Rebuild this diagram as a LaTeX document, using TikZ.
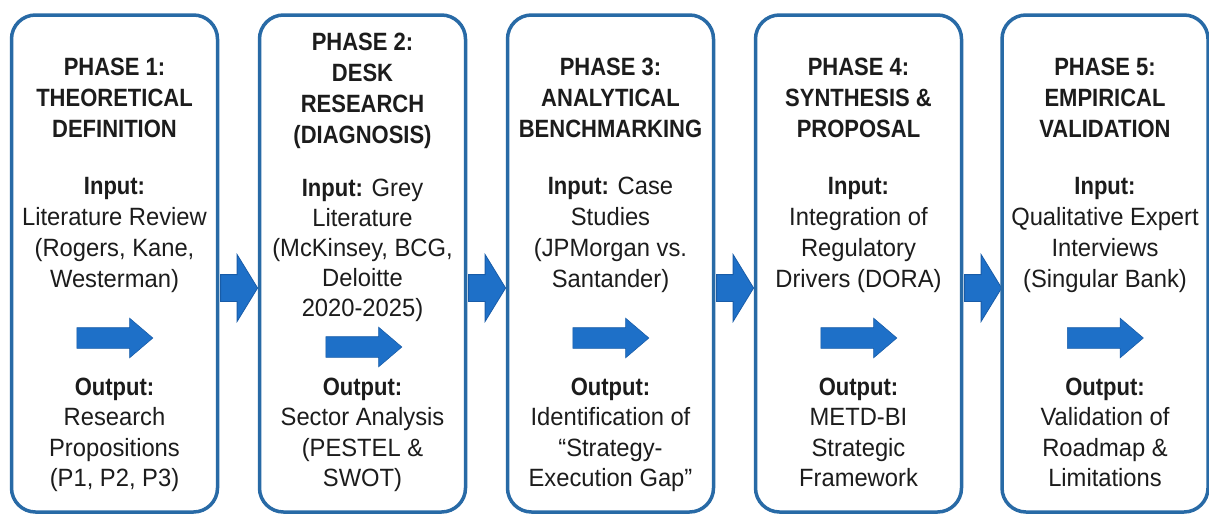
\documentclass[tikz,border=0pt]{standalone}
\usepackage{fontspec}
\setmainfont{Liberation Sans}[FakeStretch=0.95]
\newfontfamily\headfont{Liberation Sans}[FakeStretch=0.88]
\usetikzlibrary{shapes.arrows,calc}

\definecolor{boxc}{RGB}{40,106,166}
\definecolor{arrowfill}{RGB}{30,112,200}
\definecolor{arrowedge}{RGB}{24,92,168}
\definecolor{ink}{RGB}{28,28,28}

\newcommand\boldlbl[1]{{\headfont\bfseries #1}}
% rows of centred text: [style]{name}{x}{first baseline}{pitch}{rows}
\newcommand\textrows[6][txt]{%
  \foreach \l [count=\i] in {#6}{\node[#1] (#2-\i) at (#3,{#4+#5*(\i-1)}) {\l};}}

\tikzset{
  phasebox/.style={draw=boxc, line width=3.5pt, rounded corners=24pt,
    minimum width=206pt, minimum height=497pt, inner sep=0pt},
  txt/.style={anchor=base, inner sep=0pt, text=ink, font=\fontsize{25}{31}\selectfont},
  ttl/.style={txt, font=\headfont\bfseries\fontsize{25}{31}\selectfont},
  flowarrow/.style={single arrow, fill=arrowfill, draw=arrowedge, line width=0.8pt,
    inner xsep=0pt, inner ysep=13pt, minimum height=37pt, anchor=tail,
    single arrow head extend=20pt, single arrow tip angle=117},
  steparrow/.style={single arrow, fill=arrowfill, draw=arrowedge, line width=0.6pt,
    inner xsep=0pt, inner ysep=10pt, minimum height=76pt, anchor=tail,
    single arrow head extend=9.5pt, single arrow tip angle=81},
}

\begin{document}
\begin{tikzpicture}[x=1pt,y=-1pt]
  \fill[white] (0,0) rectangle (1209,515);
  \useasboundingbox (0,0) rectangle (1209,515);

  % phase frames (placed first so the connectors can refer to them)
  \path
    (114.5,263.5) node[minimum width=206pt, minimum height=497pt] (p1) {}
    (362.5,263.5) node[minimum width=206pt, minimum height=497pt] (p2) {}
    (610.5,263.5) node[minimum width=206pt, minimum height=497pt] (p3) {}
    (858.5,263.5) node[minimum width=206pt, minimum height=497pt] (p4) {}
    (1105,263.5)  node[minimum width=206pt, minimum height=497pt] (p5) {};

  % block arrows between phases
  \node[flowarrow] (f12) at ($(p1.east)+(2.5,24.5)$) {};
  \node[flowarrow] (f23) at ($(p2.east)+(2.5,24.5)$) {};
  \node[flowarrow] (f34) at ($(p3.east)+(2.5,24.5)$) {};
  \node[flowarrow] (f45) at ($(p4.east)+(2.5,24.5)$) {};

  % frame outlines
  \foreach \p in {p1,p2,p3,p4,p5}
    \node[phasebox] (\p-frame) at (\p) {};

  % input -> output arrows inside each phase
  \node[steparrow] (s1) at ($(p1.center)+(-38,74.5)$) {};
  \node[steparrow] (s2) at ($(p2.center)+(-37,83.5)$) {};
  \node[steparrow] (s3) at ($(p3.center)+(-38,74.5)$) {};
  \node[steparrow] (s4) at ($(p4.center)+(-38,74.5)$) {};
  \node[steparrow] (s5) at ($(p5.center)+(-38,74.5)$) {};

  % Phase 1
  \textrows[ttl]{t1}{114.5}{75}{31}{PHASE 1:, THEORETICAL, DEFINITION}
  \textrows{i1}{114.5}{194}{31}{\boldlbl{Input:}, Literature Review, {(Rogers, Kane,}, {Westerman)}}
  \textrows{o1}{114.5}{395}{30.5}{\boldlbl{Output:}, Research, Propositions, {(P1, P2, P3)}}

  % Phase 2
  \textrows[ttl]{t2}{362.5}{50}{31}{PHASE 2:, DESK, RESEARCH, {(DIAGNOSIS)}}
  \textrows{i2}{362.5}{196}{30}{\boldlbl{Input:} Grey, Literature, {(McKinsey, BCG,}, Deloitte, {2020-2025)}}
  \textrows{o2}{362.5}{395}{30.5}{\boldlbl{Output:}, Sector Analysis, {(PESTEL \&}, {SWOT)}}

  % Phase 3
  \textrows[ttl]{t3}{610.5}{75}{31}{PHASE 3:, ANALYTICAL, BENCHMARKING}
  \textrows{i3}{610.5}{194}{31}{\boldlbl{Input:} Case, Studies, {(JPMorgan vs.}, {Santander)}}
  \textrows{o3}{610.5}{395}{30.5}{\boldlbl{Output:}, Identification of, “Strategy-, Execution Gap”}

  % Phase 4
  \textrows[ttl]{t4}{858.5}{75}{31}{PHASE 4:, SYNTHESIS \&, PROPOSAL}
  \textrows{i4}{858.5}{194}{31}{\boldlbl{Input:}, Integration of, Regulatory, {Drivers (DORA)}}
  \textrows{o4}{858.5}{395}{30.5}{\boldlbl{Output:}, METD-BI, Strategic, Framework}

  % Phase 5
  \textrows[ttl]{t5}{1105}{75}{31}{PHASE 5:, EMPIRICAL, VALIDATION}
  \textrows{i5}{1105}{194}{31}{\boldlbl{Input:}, Qualitative Expert, Interviews, {(Singular Bank)}}
  \textrows{o5}{1105}{395}{30.5}{\boldlbl{Output:}, Validation of, Roadmap \&, Limitations}
\end{tikzpicture}
\end{document}
